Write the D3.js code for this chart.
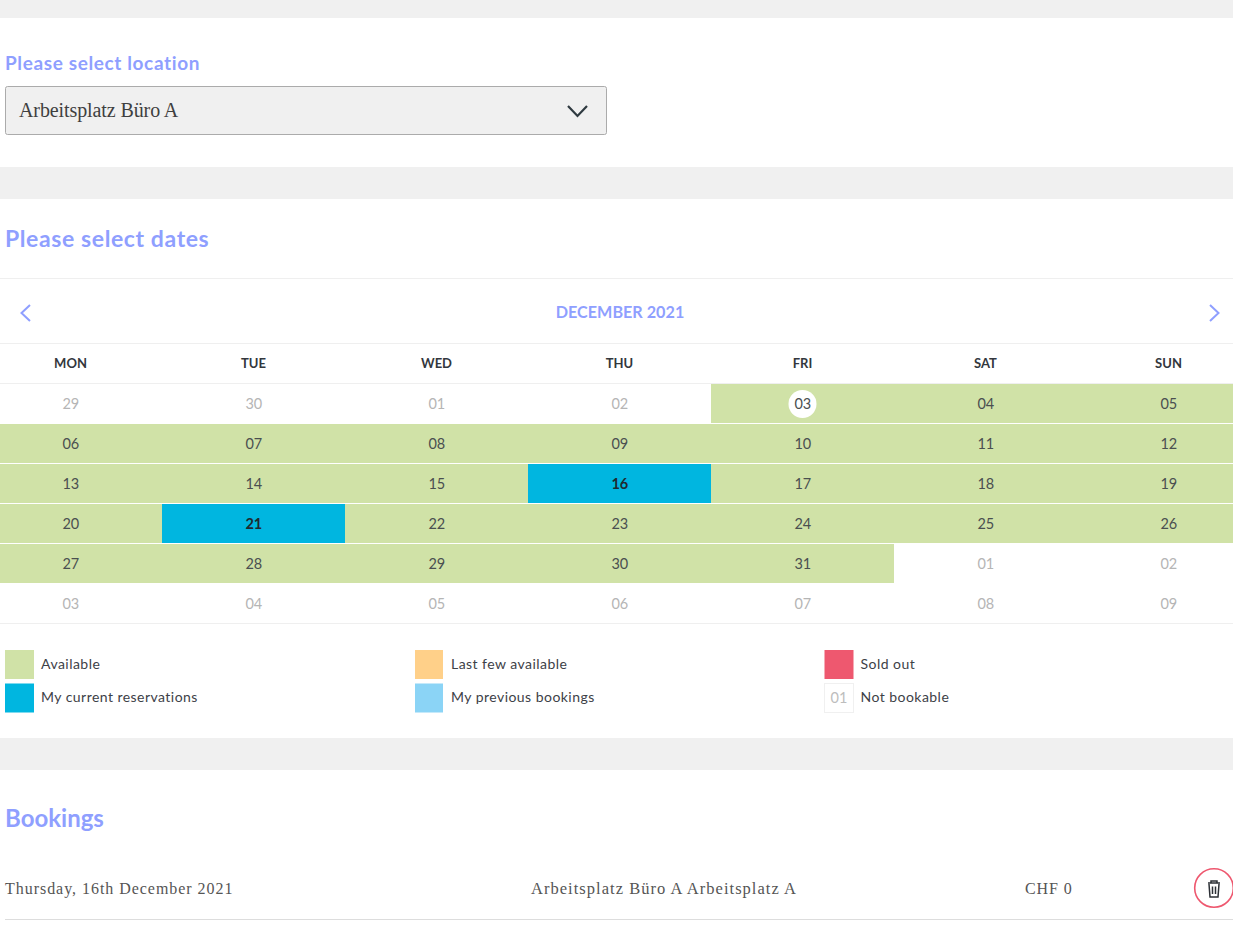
<!DOCTYPE html>
<html><head><meta charset="utf-8">
<script src="https://cdn.jsdelivr.net/npm/d3@7/dist/d3.min.js"></script>
<style>html,body{margin:0;padding:0;background:#fff;overflow:hidden}svg{display:block}</style>
</head><body><svg id="c" width="1233" height="925"></svg>
<script>
const weekdays=["MON","TUE","WED","THU","FRI","SAT","SUN"];
const dayLabels=[
["29","30","01","02","03","04","05"],
["06","07","08","09","10","11","12"],
["13","14","15","16","17","18","19"],
["20","21","22","23","24","25","26"],
["27","28","29","30","31","01","02"],
["03","04","05","06","07","08","09"]];
const dayStatus=[
["n","n","n","n","a","a","a"],
["a","a","a","a","a","a","a"],
["a","a","a","c","a","a","a"],
["a","c","a","a","a","a","a"],
["a","a","a","a","a","n","n"],
["n","n","n","n","n","n","n"]];
const statusColors={a:"#d0e2a7",c:"#00b6e0",n:"#ffffff"};
const legendItems=[
["Available","#d0e2a7",0,0],["My current reservations","#00b6e0",0,1],
["Last few available","#ffd089",1,0],["My previous bookings","#8bd4f6",1,1],
["Sold out","#ee586f",2,0],["Not bookable","#ffffff",2,1]];
const bands=[[0,18],[167,199],[738,770]];
const lines=[[0,1233,278],[0,1233,343],[0,1233,383],[0,1233,623],[5,1233,919]];
const sans="Lato, sans-serif", serif="'Liberation Serif', serif";
const blue="#8f9fff";

const svg=d3.select("#c");
svg.selectAll("rect.band").data(bands).join("rect").attr("class","band")
 .attr("x",0).attr("width",1233).attr("y",d=>d[0]).attr("height",d=>d[1]-d[0]).attr("fill","#f0f0f0");

const txt=(x,y,s,size,fill,weight,fam,anchor)=>svg.append("text").attr("x",x).attr("y",y).text(s)
 .attr("font-size",size).attr("fill",fill).attr("font-weight",weight||400).attr("font-family",fam||sans).attr("text-anchor",anchor||"start");

txt(5,70,"Please select location",19,blue,700).style("letter-spacing","0.62px");
svg.append("rect").attr("x",5.5).attr("y",86.5).attr("width",601).attr("height",48).attr("rx",2)
 .attr("fill","#f0f0f0").attr("stroke","#ababab");
txt(19,117,"Arbeitsplatz Büro A",20,"#3f3f3f",400,serif).style("letter-spacing","-0.1px");
svg.append("path").attr("d","M568 106L577.500 116L587 106").attr("fill","none").attr("stroke","#2f3a40").attr("stroke-width",2.2);

txt(5,247,"Please select dates",23,blue,700).style("letter-spacing","0.6px");
txt(620,318,"DECEMBER 2021",16.200,blue,700,sans,"middle");
svg.append("path").attr("d","M30 305L21.500 313L30 321").attr("fill","none").attr("stroke",blue).attr("stroke-width",2);
svg.append("path").attr("d","M1210 305L1218.500 313L1210 321").attr("fill","none").attr("stroke",blue).attr("stroke-width",2);

const x=d3.scaleBand().domain(d3.range(7)).range([-21,1260]);
const y=d3.scaleBand().domain(d3.range(6)).range([384,624]);

svg.selectAll("text.wd").data(weekdays).join("text").attr("class","wd")
 .attr("x",(d,i)=>x(i)+x.bandwidth()/2).attr("y",368).attr("text-anchor","middle")
 .attr("font-family",sans).attr("font-weight",700).attr("font-size",13).attr("fill","#33373d").text(d=>d);

const cells=dayLabels.flatMap((row,r)=>row.map((label,c)=>({label,r,c,s:dayStatus[r][c]})));
svg.selectAll("rect.cell").data(cells.filter(d=>d.s!=="n")).join("rect").attr("class","cell")
 .attr("x",d=>x(d.c)).attr("y",d=>y(d.r)).attr("width",x.bandwidth()).attr("height",y.bandwidth()-1)
 .attr("fill",d=>statusColors[d.s]);
svg.selectAll("line.rule").data(lines).join("line").attr("class","rule")
 .attr("x1",d=>d[0]).attr("x2",d=>d[1]).attr("y1",d=>d[2]+.5).attr("y2",d=>d[2]+.5)
 .attr("stroke",d=>d[2]===919?"#dddddd":"#efefef");
svg.append("circle").attr("cx",x(4)+x.bandwidth()/2).attr("cy",404).attr("r",14).attr("fill","#fff");
svg.selectAll("text.day").data(cells).join("text").attr("class","day")
 .attr("x",d=>x(d.c)+x.bandwidth()/2+.3).attr("y",d=>y(d.r)+24.500).attr("text-anchor","middle")
 .attr("font-family",sans).attr("font-size",14.500)
 .attr("font-weight",d=>d.s==="c"?700:400)
 .attr("fill",d=>d.s==="n"?"#b5b5b5":d.s==="c"?"#1f2a30":"#4a4f50").text(d=>d.label);

const lx=[5,415,824.500], lw=[29,28,29], ly=[650,683.500];
const lg=svg.selectAll("g.lg").data(legendItems).join("g").attr("class","lg");
lg.append("rect").attr("x",d=>lx[d[2]]).attr("y",d=>ly[d[3]]).attr("width",d=>lw[d[2]]).attr("height",29)
 .attr("fill",d=>d[1]).attr("stroke",d=>d[0]==="Not bookable"?"#f0f0f0":"none");
lg.append("text").attr("x",d=>lx[d[2]]+36).attr("y",d=>d[3]?702:669).text(d=>d[0])
 .attr("font-family",sans).attr("font-size",14).attr("fill","#3d4147").style("letter-spacing","0.46px");
txt(839,702.500,"01",14.500,"#bdbdbd",400,sans,"middle");

txt(5,827,"Bookings",24,blue,700);
txt(5,894,"Thursday, 16th December 2021",16,"#555555",400,serif).style("letter-spacing","0.96px");
txt(531,894,"Arbeitsplatz Büro A Arbeitsplatz A",16.500,"#555555",400,serif).style("letter-spacing","1.03px");
txt(1025,894,"CHF 0",16,"#555555",400,serif).style("letter-spacing","0.9px");
svg.append("circle").attr("cx",1214).attr("cy",888).attr("r",19.300).attr("fill","none").attr("stroke","#ee586f").attr("stroke-width",1.600);
svg.append("path").attr("d","M1208 883H1220M1211 883V881H1217V883M1209 884L1210 897H1218L1219 884M1212.500 886.500V894M1215.500 886.500V894")
 .attr("fill","none").attr("stroke","#2c3036").attr("stroke-width",1.500);
</script></body></html>
